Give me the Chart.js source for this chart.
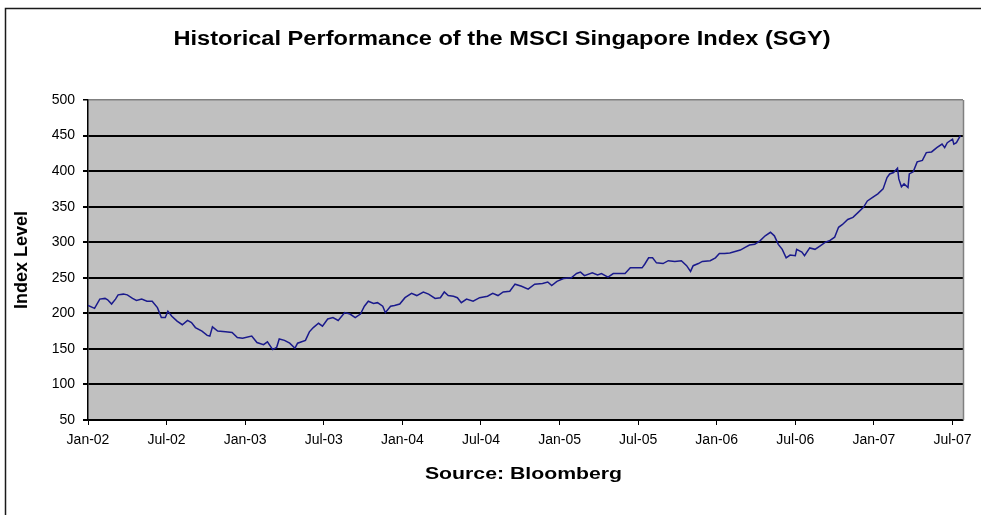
<!DOCTYPE html>
<html>
<head>
<meta charset="utf-8">
<script src="https://cdn.jsdelivr.net/npm/chart.js@4.4.1/dist/chart.umd.min.js"></script>
<style>
  html, body { margin: 0; padding: 0; background: #ffffff; }
  #wrap { width: 981px; height: 515px; position: relative; }
</style>
</head>
<body>
<div id="wrap"><canvas id="c" width="981" height="515"></canvas></div>
<script>
// ---- Data (months since Jan-2002, index level) ----
const chartTitle = 'Historical Performance of the MSCI Singapore Index (SGY)';
const yAxisTitle = 'Index Level';
const sourceNote = 'Source: Bloomberg';
const tickLabels = ['Jan-02','Jul-02','Jan-03','Jul-03','Jan-04','Jul-04','Jan-05','Jul-05','Jan-06','Jul-06','Jan-07','Jul-07'];
const months = [
  0.0,0.5,0.9,1.3,1.5,1.8,2.1,2.3,2.7,3.0,3.4,3.7,4.1,4.5,4.9,5.3,5.6,5.9,6.1,6.4,
  6.8,7.2,7.6,7.9,8.2,8.7,9.1,9.3,9.5,9.9,10.5,11.0,11.4,11.8,12.5,12.9,13.4,13.7,14.1,14.4,
  14.6,15.0,15.4,15.8,16.0,16.6,16.9,17.2,17.6,17.9,18.3,18.7,19.1,19.6,20.0,20.4,20.8,21.1,21.4,21.8,
  22.1,22.5,22.7,23.1,23.4,23.8,24.2,24.7,25.1,25.6,26.0,26.5,26.9,27.2,27.5,27.9,28.2,28.5,28.9,29.4,
  29.9,30.5,30.9,31.3,31.7,32.2,32.6,33.1,33.6,34.1,34.7,35.1,35.4,35.8,36.3,36.9,37.3,37.6,37.9,38.5,
  38.9,39.2,39.7,40.1,41.0,41.4,42.3,42.5,42.8,43.1,43.4,43.9,44.3,44.8,45.3,45.7,46.0,46.2,46.6,46.9,
  47.5,47.9,48.2,48.6,49.0,49.4,49.8,50.2,50.5,50.9,51.3,51.7,52.1,52.4,52.7,53.0,53.3,53.6,54.0,54.1,
  54.5,54.7,55.1,55.5,55.9,56.3,56.6,57.0,57.3,57.6,58.0,58.4,58.8,59.2,59.5,59.9,60.3,60.7,61.0,61.2,
  61.5,61.8,61.9,62.1,62.3,62.6,62.7,63.0,63.3,63.7,64.0,64.4,64.8,65.2,65.4,65.6,66.0,66.1,66.3,66.6
];
const indexLevel = [
  211,207,220,221,219,213,220,226,227,226,221,218,220,217,217,208,194,194,203,196,
  189,184,190,187,180,175,169,168,181,175,174,173,166,165,168,159,156,160,149,152,
  164,162,158,151,158,162,174,180,186,182,192,194,190,201,199,194,199,210,217,214,
  215,210,201,210,211,213,222,228,225,230,227,221,222,230,225,224,222,215,220,217,
  222,224,228,225,230,231,241,238,234,241,242,244,239,245,249,250,256,258,253,257,
  254,256,251,256,256,264,264,269,278,278,271,270,274,273,274,267,259,267,270,273,
  274,278,284,284,285,287,289,293,296,297,302,309,314,309,297,290,278,282,281,290,
  286,281,292,290,295,300,302,307,321,325,332,335,342,349,358,363,368,375,391,396,
  398,404,389,378,382,377,396,399,413,415,426,427,433,438,433,440,445,438,440,450
];

const points = months.map((m, i) => ({ x: m, y: indexLevel[i] }));
const FONT = '"Liberation Sans", Arial, sans-serif';

function stretchedText(ctx, text, x, y, font, sx) {
  ctx.save();
  ctx.font = font;
  ctx.fillStyle = '#000';
  ctx.textAlign = 'center';
  ctx.textBaseline = 'middle';
  ctx.translate(x, y);
  ctx.scale(sx, 1);
  ctx.fillText(text, 0, 0);
  ctx.restore();
}

const decor = {
  id: 'decor',
  beforeDraw(chart) {
    const { ctx, chartArea: a } = chart;
    ctx.save();
    ctx.fillStyle = '#c0c0c0';
    ctx.fillRect(a.left, a.top, a.right - a.left, a.bottom - a.top);
    ctx.restore();
  },
  afterDraw(chart) {
    const { ctx, chartArea: a } = chart;
    ctx.save();
    ctx.strokeStyle = '#808080';
    ctx.lineWidth = 1.5;
    ctx.beginPath();
    ctx.moveTo(a.right + 0.5, a.top);
    ctx.lineTo(a.right + 0.5, a.bottom);
    ctx.stroke();
    ctx.strokeStyle = '#1a1a1a';
    ctx.lineWidth = 1.5;
    ctx.beginPath();
    ctx.moveTo(5.5, 515);
    ctx.lineTo(5.5, 8.5);
    ctx.lineTo(981, 8.5);
    ctx.stroke();
    ctx.restore();
    stretchedText(ctx, chartTitle, 502, 39, 'bold 20px ' + FONT, 1.18);
    stretchedText(ctx, sourceNote, (a.left + a.right) / 2 - 2, 474, 'bold 17px ' + FONT, 1.25);
  }
};

new Chart(document.getElementById('c'), {
  type: 'line',
  data: {
    datasets: [{
      data: points,
      borderColor: '#1a1a8c',
      borderWidth: 1.5,
      pointRadius: 0,
      tension: 0,
      fill: false
    }]
  },
  options: {
    responsive: false,
    animation: false,
    devicePixelRatio: 1,
    layout: { padding: { top: 100, left: 5, right: 18, bottom: 0 } },
    plugins: {
      legend: { display: false },
      title: { display: false },
      tooltip: { enabled: false }
    },
    scales: {
      x: {
        type: 'linear',
        min: 0,
        max: 66.8,
        afterFit(scale) { scale.height = 95; },
        border: { display: true, color: '#000', width: 1.5 },
        grid: { drawOnChartArea: false, drawTicks: true, tickLength: 5, tickColor: '#000', color: '#000' },
        ticks: {
          stepSize: 6,
          includeBounds: false,
          autoSkip: false,
          maxRotation: 0,
          minRotation: 0,
          padding: 7,
          color: '#000',
          font: { family: FONT, size: 14 },
          callback(v) {
            const i = Math.round(v / 6);
            return (Math.abs(v - i * 6) < 1e-6 && tickLabels[i]) ? tickLabels[i] : '';
          }
        },
        title: { display: false }
      },
      y: {
        min: 50,
        max: 500,
        afterFit(scale) { scale.width = 83; },
        border: { display: true, color: '#000', width: 1.5 },
        grid: {
          drawTicks: true,
          tickLength: 5,
          tickColor: '#000',
          color(ctx) { return ctx.tick && ctx.tick.value === 500 ? '#808080' : '#000'; },
          lineWidth(ctx) { return ctx.tick && ctx.tick.value === 500 ? 1.5 : 2; }
        },
        ticks: {
          stepSize: 50,
          padding: 8,
          color: '#000',
          font: { family: FONT, size: 14 }
        },
        title: {
          display: true,
          text: yAxisTitle,
          color: '#000',
          font: { family: FONT, size: 18, weight: 'bold' },
          padding: { top: 6, bottom: 0 }
        }
      }
    }
  },
  plugins: [decor]
});
</script>
</body>
</html>
